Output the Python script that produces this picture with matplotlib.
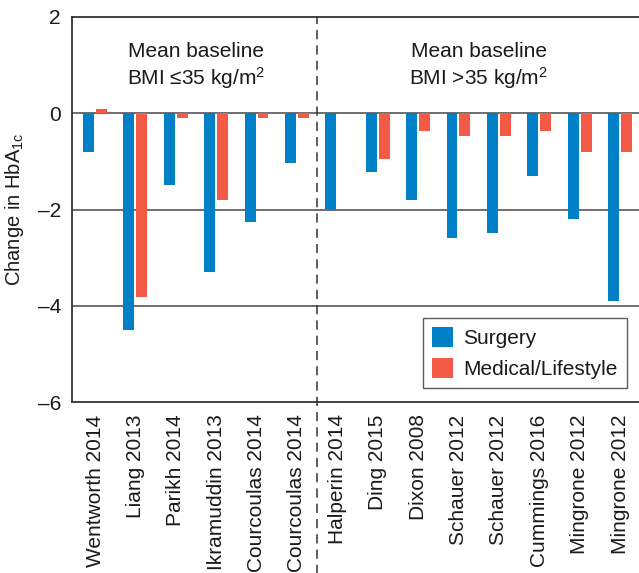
import matplotlib
matplotlib.use("Agg")
import matplotlib.pyplot as plt
import numpy as np

plt.rcParams['font.family'] = ['Liberation Sans', 'DejaVu Sans']
plt.rcParams['mathtext.fontset'] = 'custom'
plt.rcParams['mathtext.rm'] = 'Liberation Sans'
plt.rcParams['mathtext.it'] = 'Liberation Sans'
plt.rcParams['mathtext.bf'] = 'Liberation Sans:bold'

studies = ["Wentworth 2014", "Liang 2013", "Parikh 2014", "Ikramuddin 2013",
           "Courcoulas 2014", "Courcoulas 2014", "Halperin 2014", "Ding 2015",
           "Dixon 2008", "Schauer 2012", "Schauer 2012", "Cummings 2016",
           "Mingrone 2012", "Mingrone 2012"]
surgery = [-0.81, -4.5, -1.49, -3.29, -2.27, -1.03, -2.0, -1.22,
           -1.8, -2.6, -2.48, -1.3, -2.19, -3.91]
medical = [0.09, -3.81, -0.1, -1.8, -0.1, -0.1, np.nan, -0.95,
           -0.37, -0.47, -0.47, -0.37, -0.8, -0.8]
yticks = [2, 0, -2, -4, -6]

blue = "#0080C6"
red = "#F45B46"
txt = '#1a1a1a'

fig = plt.figure(figsize=(6.39, 5.73), dpi=100)
ax = fig.add_axes([72/639, 1-402/573, (639-72)/639, 385/573])

x = np.arange(len(studies))
w = 0.27
ax.bar(x - 0.16, surgery, width=w, color=blue, label="Surgery", zorder=3)
ax.bar(x + 0.16, medical, width=w, color=red, label="Medical/Lifestyle", zorder=3)

ax.set_xlim(-0.57, 13.47)
ax.set_ylim(-6, 2)
ax.set_yticks(yticks)
ax.set_yticklabels([str(t).replace('-', '\u2013') for t in yticks])
for t in [0, -2, -4]:
    ax.axhline(t, color="#555555", lw=1.2, zorder=2)

ax.set_xticks(x)
ax.set_xticklabels(studies, rotation=90, ha='center', va='top')
ax.tick_params(axis='x', length=0, pad=9, labelsize=15, colors=txt)
ax.tick_params(axis='y', length=0, pad=8, labelsize=15, colors=txt)

ax.spines['right'].set_visible(False)
for s in ['left', 'top', 'bottom']:
    ax.spines[s].set_color('#333333')
    ax.spines[s].set_linewidth(1.3)

ax.axvline(5.5, ymin=-0.45, ymax=1, color='#333333', lw=1.1,
           linestyle=(0, (6, 4)), clip_on=False, zorder=4)

ax.set_ylabel("Change in HbA$_{1c}$", fontsize=14.5, color=txt, labelpad=8)

ax.text(2.5, 0.97, "Mean baseline\nBMI \u226435 kg/m$^2$", ha='center', va='center',
        fontsize=15, color=txt, linespacing=1.2)
ax.text(9.5, 0.97, "Mean baseline\nBMI >35 kg/m$^2$", ha='center', va='center',
        fontsize=15, color=txt, linespacing=1.2)

leg = ax.legend(loc='lower right', bbox_to_anchor=(0.979, 0.036), borderaxespad=0,
                fontsize=15, frameon=True, fancybox=False, handlelength=1.0,
                handleheight=1.1, handletextpad=0.5, borderpad=0.45, labelspacing=0.45)
leg.get_frame().set_edgecolor('#333333')
leg.get_frame().set_linewidth(1.0)
for t in leg.get_texts():
    t.set_color(txt)

fig.savefig("out.png", dpi=100)
